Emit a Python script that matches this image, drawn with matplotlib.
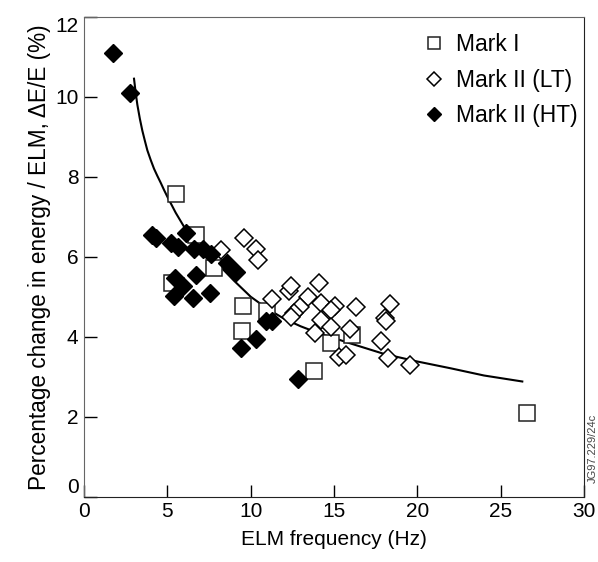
import matplotlib
matplotlib.use('Agg')
import matplotlib.pyplot as plt

plt.rcParams['font.family'] = ['Liberation Sans', 'DejaVu Sans']

# Mark I (open squares)
mk1_x = [5.5, 6.7, 7.8, 5.25, 9.55, 9.5, 11.0, 14.85, 16.1, 13.8, 26.6]
mk1_y = [7.57, 6.54, 5.71, 5.33, 4.77, 4.13, 4.63, 3.83, 4.04, 3.15, 2.1]

# Mark II low triangularity (open diamonds)
lt_x = [8.2, 9.6, 10.3, 10.45, 11.3, 12.3, 12.4, 14.1, 13.45, 14.2, 15.05, 14.85,
        16.3, 18.35, 12.95, 12.6, 12.45, 14.2, 14.85, 13.85, 15.95, 18.05, 18.15,
        17.85, 18.25, 19.55, 15.3, 15.75]
lt_y = [6.17, 6.46, 6.18, 5.92, 4.93, 5.13, 5.27, 5.35, 4.98, 4.85, 4.77, 4.67,
        4.73, 4.82, 4.73, 4.6, 4.48, 4.42, 4.25, 4.1, 4.2, 4.46, 4.38,
        3.88, 3.46, 3.3, 3.5, 3.54]

# Mark II high triangularity (filled diamonds)
ht_x = [1.75, 2.75, 4.1, 4.3, 5.2, 5.65, 6.1, 6.6, 7.15, 7.6, 8.6, 9.1,
        5.45, 5.95, 6.7, 5.4, 6.55, 7.55, 10.9, 11.3, 10.35, 9.45, 12.85]
ht_y = [11.1, 10.1, 6.54, 6.46, 6.33, 6.25, 6.6, 6.18, 6.18, 6.06, 5.85, 5.62,
        5.47, 5.26, 5.54, 5.02, 4.96, 5.1, 4.38, 4.38, 3.93, 3.71, 2.94]

# trend curve
fit_x = [3.0, 3.1, 3.2, 3.35, 3.5, 3.65, 3.8, 4.0, 4.2, 4.4, 4.6, 4.8, 5.0,
         5.5, 6.0, 6.5, 7.0, 7.5, 8.0, 9.0, 10.0, 11.0, 12.0, 13.0, 14.0, 16.0,
         18.0, 20.0, 22.0, 24.0, 26.3]
fit_y = [10.45, 10.1, 9.8, 9.45, 9.15, 8.9, 8.66, 8.42, 8.2, 8.02, 7.85, 7.67, 7.5,
         7.1, 6.75, 6.48, 6.25, 6.03, 5.83, 5.4, 5.0, 4.7, 4.45, 4.26, 4.1, 3.83,
         3.57, 3.38, 3.21, 3.03, 2.88]

fig = plt.figure(figsize=(5.98, 5.62), dpi=100)
ax = fig.add_axes([0.1405, 0.1162, 0.836, 0.8541])

ax.plot(fit_x, fit_y, color='black', lw=1.5, zorder=1)
ax.plot(mk1_x, mk1_y, ls='none', marker='s', ms=11.5, mfc='white', mec='#222222',
        mew=1.1, label='Mark I', zorder=2)
ax.plot(lt_x, lt_y, ls='none', marker='D', ms=9.3, mfc='white', mec='black',
        mew=1.1, label='Mark II (LT)', zorder=3)
ax.plot(ht_x, ht_y, ls='none', marker='D', ms=9.3, mfc='black', mec='black',
        mew=1.0, label='Mark II (HT)', zorder=4)

ax.set_xlim(0, 30)
ax.set_ylim(0, 12)
ax.set_xticks([0, 5, 10, 15, 20, 25, 30])
ax.set_yticks([0, 2, 4, 6, 8, 10, 12])
ax.tick_params(direction='in', length=9, width=1, labelsize=15, pad=4)
for side in ['left', 'top']:
    ax.spines[side].set_color('#666666')
for side in ['bottom', 'right']:
    ax.spines[side].set_color('#222222')

ylabs = ax.get_yticklabels()
ylabs[0].set_va('bottom')
ylabs[-1].set_va('top')

ax.set_xlabel('ELM frequency (Hz)', fontsize=15, labelpad=6)
ax.set_ylabel('Percentage change in energy / ELM, \u0394E/E (%)', fontsize=16.3, labelpad=3)

ax.legend(loc='upper right', bbox_to_anchor=(1.005, 0.985), frameon=False,
          fontsize=16.5, markerscale=0.8, handletextpad=0.4, handlelength=1.1,
          labelspacing=0.55, borderaxespad=0)

fig.text(0.992, 0.14, 'JG97.229/24c', rotation=90, fontsize=8, color='#444444',
         ha='center', va='bottom')

plt.savefig('out.png', dpi=100)
